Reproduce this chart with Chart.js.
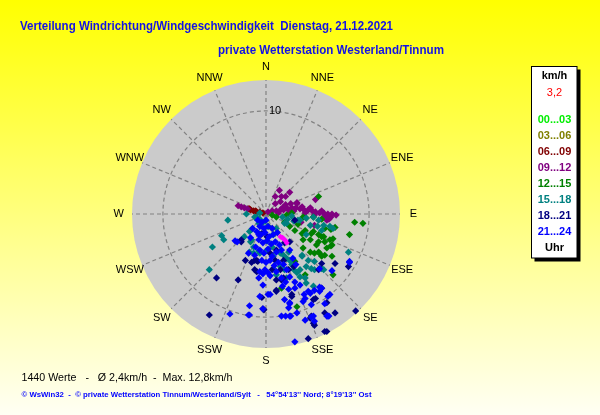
<!DOCTYPE html>
<html lang="de">
<head>
<meta charset="utf-8">
<title>Verteilung Windrichtung/Windgeschwindigkeit</title>
<script src="https://cdn.jsdelivr.net/npm/chart.js@4.4.1/dist/chart.umd.min.js"></script>
<style>
  html, body { margin: 0; padding: 0; background: #ffff00; overflow: hidden; }
</style>
</head>
<body>
<canvas id="windrose" width="600" height="415"></canvas>
<script>
// Himmelsrichtungen, im Uhrzeigersinn ab Nord
const richtungen = ['N', 'NNE', 'NE', 'ENE', 'E', 'ESE', 'SE', 'SSE', 'S', 'SSW', 'SW', 'WSW', 'W', 'WNW', 'NW', 'NNW'];
const ringe = [10];      // km/h
const vMax = 13;         // Aussenkreis in km/h

const zeitraeume = ['00...03', '03...06', '06...09', '09...12', '12...15', '15...18', '18...21', '21...24'];
const farben = ['#00ee00', '#808000', '#800000', '#800080', '#008000', '#008080', '#000080', '#0000ff'];

// Messwerte als [Ostkomponente, Nordkomponente] in km/h
const wind0003 = [[0.2, -1.2], [0.7, -2.0], [0.1, -2.6]];
const wind0306 = [[0.6, -1.4], [1.1, -1.8], [-0.5, -2.0]];
const wind0609 = [[-1.7, 0.5], [-1.5, 0.4], [-1.2, 0.3], [-0.9, 0.2], [-0.6, 0.2], [-0.3, 0.1], [-1.6, 0.5], [-1.0, 0.3]];
const wind0912 = [
  [-2.7, 0.8], [-2.4, 0.7], [-2.1, 0.6], [-1.8, 0.5], [0.2, 0.2], [0.6, 0.3], [1.0, 0.3], [1.4, 0.4], [1.7, 0.4],
  [2.1, 0.5], [2.5, 0.6], [2.9, 0.6], [3.3, 0.5], [3.7, 0.4], [4.1, 0.4], [4.5, 0.3], [4.8, 0.2], [5.2, 0.1],
  [5.6, 0.1], [6.0, 0.0], [6.4, 0.0], [6.8, -0.1], [1.9, 0.9], [2.4, 1.0], [3.0, 1.1], [1.2, 0.1], [2.3, 0.2],
  [3.8, 0.1], [4.7, -0.1], [5.7, -0.2], [5.9, -0.6], [6.1, -0.5], [1.3, 2.3], [0.9, 1.7], [1.5, 1.7], [1.9, 1.7],
  [2.3, 2.1], [0.9, 1.0], [1.4, 1.2], [3.0, 1.0], [4.8, 1.4], [4.7, -1.1], [3.4, -0.8], [3.5, 0.7], [4.3, 0.6],
  [5.4, 0.3], [2.7, 0.3], [6.3, -0.3], [1.6, 0.6]
];
const wind1215 = [
  [5.1, 1.7], [8.6, -0.8], [9.4, -0.9], [8.1, -2.0], [6.5, -2.4], [6.5, -5.9], [3.0, -9.0], [1.5, -7.2], [6.3, -3.1],
  [0.6, -0.1], [1.0, -0.3], [2.0, -0.1], [2.5, 0.1], [3.6, -0.3], [3.9, -0.4], [4.6, -0.3], [5.4, -0.5], [5.7, -1.4],
  [6.3, -1.5], [6.7, -1.3], [6.2, -2.5], [5.7, -2.7], [6.4, -3.0], [5.1, -2.7], [4.3, -2.5], [3.5, -1.9], [3.8, -1.6],
  [2.8, -1.6], [2.3, -1.2], [4.4, -1.9], [5.1, -2.0], [5.4, -2.2], [5.2, -3.8], [5.4, -4.1], [5.1, -3.7], [5.7, -4.0],
  [6.4, -4.1], [5.9, -3.3], [3.6, -3.3], [2.8, -4.6], [3.8, -5.9], [4.3, -3.7], [4.6, -1.7], [5.6, -2.2], [4.9, -3.0],
  [4.7, -3.8], [3.6, -2.5], [1.8, -0.8], [3.1, -1.0]
];
const wind1518 = [
  [-3.7, -0.6], [-4.3, -2.1], [-4.1, -2.5], [-5.2, -3.2], [-5.5, -5.4], [-2.1, -2.2], [-1.6, -1.7], [-1.4, -2.5],
  [-1.6, -3.7], [-1.1, -0.3], [-1.9, 0.0], [-0.9, -0.3], [-1.4, -1.5], [8.0, -3.7], [6.5, -1.4], [5.4, -1.6],
  [5.0, -1.2], [4.3, -1.1], [1.6, -0.3], [2.1, -0.5], [2.7, -0.7], [3.1, -0.6], [1.8, -0.9], [2.5, -0.2],
  [-0.6, -0.5], [-0.7, -0.9], [-0.1, -0.7], [-0.7, -3.6], [1.7, -4.0], [2.0, -4.3], [2.5, -4.9], [2.7, -5.4],
  [3.3, -5.4], [3.8, -6.2], [4.4, -5.3], [4.7, -5.4], [4.1, -4.5], [4.7, -4.6], [5.4, -5.3], [5.6, -5.4],
  [1.4, -5.1], [1.0, -5.9], [0.7, -5.3], [-0.6, 0.1], [-0.4, -0.9], [1.0, -1.4], [2.0, -0.9], [3.3, -0.6],
  [3.9, -2.0], [3.5, -4.1], [2.3, -4.5], [0.1, -3.5], [0.6, -3.2], [1.4, -3.8], [1.8, -5.4], [3.9, -6.7],
  [3.3, -6.1], [-1.2, -3.8], [-1.5, -2.7], [-1.2, -3.2], [-0.6, -3.8], [0.7, -4.1], [2.2, -3.7], [3.5, -4.0],
  [3.9, -5.1], [3.0, -5.7], [2.0, -6.2], [4.6, -7.0], [3.9, -0.4], [4.6, -0.3], [5.1, -0.6], [5.6, -1.1], [6.2, -1.2]
];
const wind1821 = [
  [-4.8, -6.2], [-2.7, -6.4], [-5.5, -9.8], [-2.4, -2.7], [-1.4, -4.7], [-0.8, -4.6], [-0.9, -5.6], [-0.4, -8.1],
  [-0.3, -9.2], [6.7, -4.8], [8.0, -5.1], [8.7, -9.4], [6.7, -9.6], [4.1, -12.1], [5.7, -11.4], [4.6, -10.6],
  [4.3, -10.1], [1.0, -7.5], [2.5, -7.8], [4.6, -8.3], [4.7, -10.8], [5.7, -9.6], [5.9, -11.4], [-1.1, -4.5],
  [1.0, -6.4], [1.5, -6.4], [2.3, -2.7], [2.8, -0.6], [1.8, -2.8], [0.9, -4.5], [0.6, -5.4], [4.8, -8.2],
  [5.9, -8.6], [5.1, -5.4], [5.4, -4.8], [-0.4, -1.9], [0.1, -2.2], [0.4, -3.8], [1.0, -3.5], [1.7, -4.5],
  [2.7, -5.1], [1.4, -5.4], [2.2, -5.4], [-2.0, -4.5], [-1.1, -5.4], [-0.2, -9.3], [1.0, -7.4], [1.7, -6.2],
  [2.5, -8.0], [5.4, -7.2], [4.4, -9.9], [-0.9, -4.5], [-2.4, -2.5]
];
const wind2124 = [
  [-3.0, -2.6], [-3.5, -9.7], [-1.6, -9.8], [-1.6, -8.9], [-0.6, -8.0], [0.2, -7.8], [-0.3, -9.2], [1.5, -9.9],
  [1.9, -9.9], [2.3, -9.9], [2.3, -8.6], [3.0, -9.6], [3.7, -7.8], [4.3, -7.7], [4.7, -7.4], [5.2, -7.1],
  [3.6, -8.5], [4.4, -8.8], [4.6, -9.9], [4.7, -10.4], [6.0, -8.0], [6.0, -9.9], [5.2, -5.3], [6.4, -5.5],
  [8.1, -4.7], [6.2, -7.8], [5.7, -8.7], [3.8, -10.3], [4.4, -10.0], [2.8, -12.4], [2.4, -9.9], [2.2, -9.1],
  [2.3, -8.7], [1.8, -8.3], [0.4, -7.8], [-1.7, -9.8], [-0.3, -6.9], [2.2, -7.3], [2.8, -7.2], [4.1, -7.5],
  [5.4, -7.2], [3.8, -8.2], [6.1, -9.9], [-0.7, -6.2], [-0.6, -5.6], [0.2, -5.7], [-1.7, -3.8], [-0.7, -2.0],
  [-0.3, -5.8], [5.2, -7.5], [8.1, -4.6], [5.9, -9.9], [-2.8, -2.7],
  [-0.8, -0.6], [-0.4, -0.8], [0.0, -0.6], [-0.6, -1.2], [-0.2, -1.4], [0.2, -1.2], [0.6, -1.4], [-0.9, -1.7],
  [-0.5, -2.0], [-0.1, -1.8], [0.3, -2.2], [0.7, -2.0], [1.1, -1.8], [-0.7, -2.5], [-0.3, -2.8], [0.1, -2.6],
  [0.5, -2.9], [0.9, -2.7], [1.3, -3.0], [-1.0, -3.2], [-0.6, -3.5], [-0.2, -3.8], [0.2, -3.4], [0.6, -4.1],
  [1.0, -3.7], [1.5, -3.5], [-0.4, -4.5], [0.0, -4.7], [0.4, -4.5], [0.8, -5.0], [1.2, -4.7], [1.7, -4.9],
  [2.0, -5.4], [-0.1, -5.4], [0.4, -6.0], [1.0, -5.6], [1.5, -6.2], [1.9, -6.6], [2.3, -6.1], [2.8, -6.6],
  [1.6, -7.0], [3.3, -6.9], [-1.3, -1.4], [-1.5, -2.3], [-1.1, -4.0], [2.3, -3.5], [2.6, -4.3], [2.9, -4.9]
];
// letzte Werte (aktuell 3,2 km/h)
const windAktuell = [[1.4, -2.2], [1.6, -2.3], [1.7, -2.4], [1.9, -2.6], [2.0, -2.8]];

const serien = [wind0003, wind0306, wind0609, wind0912, wind1215, wind1518, wind1821, wind2124];

const datasets = serien.map((werte, i) => ({
    label: zeitraeume[i],
    data: werte.map(w => ({ x: w[0], y: w[1] })),
    backgroundColor: farben[i],
    borderWidth: 0,
    pointStyle: 'rectRot',
    pointRadius: 3.6,
    order: 20 - i          // spaetere Uhrzeiten liegen oben
}));
datasets.push({
    label: 'aktuell',
    data: windAktuell.map(w => ({ x: w[0], y: w[1] })),
    backgroundColor: '#ff00ff',
    borderWidth: 0,
    pointStyle: 'rectRot',
    pointRadius: 3,
    order: 0
});

const windrosePlugin = {
    id: 'windrose',
    beforeDraw(chart) {
        const { ctx, scales: { x, y } } = chart;
        const cx = x.getPixelForValue(0);
        const cy = y.getPixelForValue(0);
        const rPx = v => x.getPixelForValue(v) - cx;
        const R = rPx(vMax);

        ctx.save();
        // Hintergrund
        const grad = ctx.createLinearGradient(0, 0, 0, chart.height);
        grad.addColorStop(0, '#ffff00');
        grad.addColorStop(1, '#fffff4');
        ctx.fillStyle = grad;
        ctx.fillRect(0, 0, chart.width, chart.height);

        // graue Scheibe
        ctx.beginPath();
        ctx.arc(cx, cy, R, 0, 2 * Math.PI);
        ctx.fillStyle = '#cbcbcb';
        ctx.fill();

        // Speichen und Ringe
        ctx.strokeStyle = '#828282';
        ctx.lineWidth = 1.2;
        ctx.setLineDash([4, 3]);
        richtungen.forEach((r, i) => {
            const a = i * Math.PI / 8;
            ctx.beginPath();
            ctx.moveTo(cx, cy);
            ctx.lineTo(cx + Math.sin(a) * R, cy - Math.cos(a) * R);
            ctx.stroke();
        });
        ringe.forEach(v => {
            ctx.beginPath();
            ctx.arc(cx, cy, rPx(v), 0, 2 * Math.PI);
            ctx.stroke();
        });
        ctx.setLineDash([]);

        // Beschriftung
        ctx.fillStyle = '#000';
        ctx.font = '11px "Liberation Sans", Arial, sans-serif';
        ctx.textAlign = 'center';
        ctx.textBaseline = 'middle';
        richtungen.forEach((r, i) => {
            const a = i * Math.PI / 8;
            const d = R * 1.1;
            ctx.fillText(r, cx + Math.sin(a) * d, cy - Math.cos(a) * d);
        });
        ctx.textAlign = 'left';
        ringe.forEach(v => ctx.fillText(String(v), cx + 3, cy - rPx(v)));
        ctx.restore();
    },
    afterDraw(chart) {
        const ctx = chart.ctx;
        ctx.save();
        ctx.textBaseline = 'alphabetic';
        ctx.textAlign = 'left';

        // Titel
        ctx.fillStyle = '#1212e6';
        ctx.font = 'bold 13px "Liberation Sans", Arial, sans-serif';
        ctx.fillText('Verteilung Windrichtung/Windgeschwindigkeit  Dienstag, 21.12.2021', 20, 29.5, 373);
        ctx.fillText('private Wetterstation Westerland/Tinnum', 218, 53.5, 226);

        // Legende
        ctx.fillStyle = '#000';
        ctx.fillRect(534.5, 69.5, 46, 192);
        ctx.fillStyle = '#fff';
        ctx.fillRect(531.5, 66.5, 45.5, 191.5);
        ctx.strokeStyle = '#000';
        ctx.lineWidth = 1;
        ctx.strokeRect(531.5, 66.5, 45.5, 191.5);

        ctx.textAlign = 'center';
        ctx.textBaseline = 'middle';
        ctx.font = 'bold 11px "Liberation Sans", Arial, sans-serif';
        ctx.fillStyle = '#000';
        ctx.fillText('km/h', 554.5, 76);
        ctx.font = '11px "Liberation Sans", Arial, sans-serif';
        ctx.fillStyle = '#ff0000';
        ctx.fillText('3,2', 554.5, 93);
        ctx.font = 'bold 11px "Liberation Sans", Arial, sans-serif';
        zeitraeume.forEach((z, i) => {
            ctx.fillStyle = farben[i];
            ctx.fillText(z, 554.5, 120 + i * 16);
        });
        ctx.fillStyle = '#000';
        ctx.fillText('Uhr', 554.5, 247.5);

        // Fusszeilen
        ctx.textAlign = 'left';
        ctx.textBaseline = 'alphabetic';
        ctx.fillStyle = '#000';
        ctx.font = '11px "Liberation Sans", Arial, sans-serif';
        ctx.fillText('1440 Werte   -   \u00d8 2,4km/h  -  Max. 12,8km/h', 21.5, 381, 211);
        ctx.fillStyle = '#0000ff';
        ctx.font = 'bold 8px "Liberation Sans", Arial, sans-serif';
        ctx.fillText('\u00a9 WsWin32  -  \u00a9 private Wetterstation Tinnum/Westerland/Sylt   -   54\u00b054\'13\'\' Nord; 8\u00b019\'13\'\' Ost', 21.5, 396.5, 350);
        ctx.restore();
    }
};

new Chart(document.getElementById('windrose').getContext('2d'), {
    type: 'scatter',
    data: { datasets: datasets },
    options: {
        responsive: false,
        animation: false,
        events: [],
        layout: { padding: { left: 132, right: 200, top: 80, bottom: 67 } },
        scales: {
            x: { min: -vMax, max: vMax, display: false },
            y: { min: -vMax, max: vMax, display: false }
        },
        plugins: {
            legend: { display: false },
            tooltip: { enabled: false }
        }
    },
    plugins: [windrosePlugin]
});
</script>
</body>
</html>
